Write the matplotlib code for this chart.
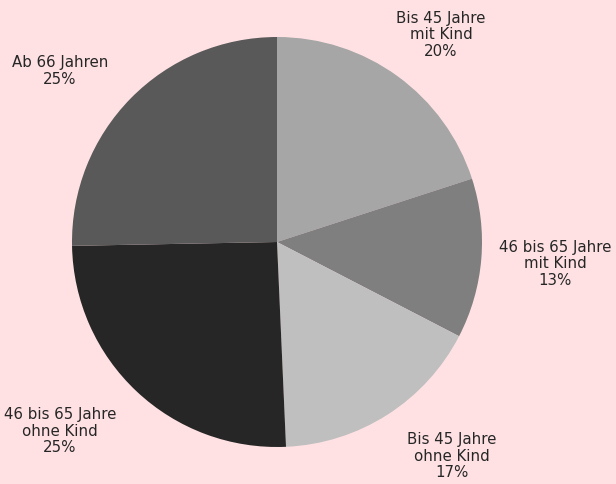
import matplotlib.pyplot as plt
import numpy as np

labels = ['Bis 45 Jahre\nmit Kind', '46 bis 65 Jahre\nmit Kind', 'Bis 45 Jahre\nohne Kind',
          '46 bis 65 Jahre\nohne Kind', 'Ab 66 Jahren']
shares = [20.0, 12.6, 16.7, 25.4, 25.3]
colors = ['#a6a6a6', '#7f7f7f', '#bfbfbf', '#262626', '#595959']
# label offsets (radius units) relative to pie centre
label_pos = [(0.80, 1.01), (1.356, -0.107), (0.854, -1.044), (-1.059, -0.922), (-1.059, 0.834)]

bg = '#ffe1e3'
fig = plt.figure(figsize=(6.16, 4.84), dpi=100, facecolor=bg)
ax = fig.add_axes([(277 - 205) / 616, (242 - 205) / 484, 410 / 616, 410 / 484])
ax.set_facecolor(bg)

ax.pie(shares, colors=colors, startangle=90, counterclock=False, radius=1,
       wedgeprops=dict(linewidth=0))

for lab, v, (x, y) in zip(labels, shares, label_pos):
    ax.text(x, y, f'{lab}\n{v:.0f}%', ha='center', va='center', fontsize=10.8,
            color='#262626', linespacing=1.15, family='DejaVu Sans')

ax.set_xlim(-1, 1)
ax.set_ylim(-1, 1)
ax.set_aspect('equal')
ax.axis('off')

plt.savefig('out.png', dpi=100, facecolor=bg)
